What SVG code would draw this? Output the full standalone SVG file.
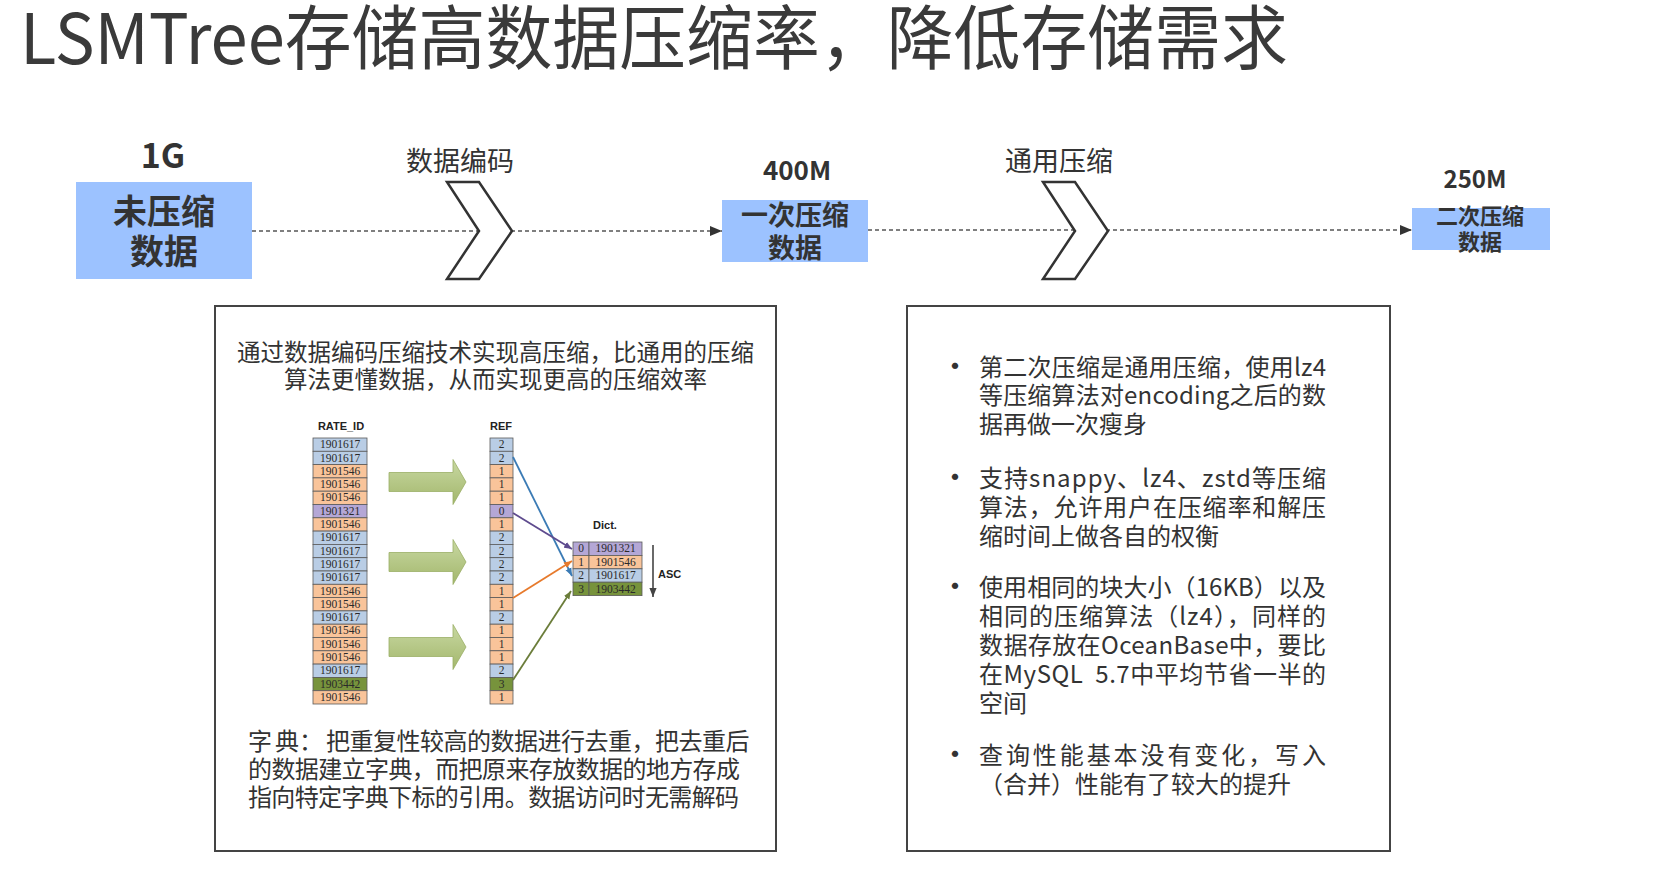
<svg xmlns="http://www.w3.org/2000/svg" width="1666" height="880" viewBox="0 0 1666 880">
  <style>
    text { font-family: 'Noto Sans CJK SC', 'Noto Sans', sans-serif; fill: #333; }
    .title { font-size: 70px; fill: #3a3a3a; }
    .size { font-weight: bold; text-anchor: middle; }
    .blk { font-weight: bold; text-anchor: middle; }
    .stage { font-size: 27px; text-anchor: middle; }
    .box { fill: #9cc2ff; }
    .chev { fill: #fff; stroke: #333; stroke-width: 2.5; stroke-linejoin: miter; }
    .flow { fill: none; stroke: #555; stroke-width: 1.3; stroke-dasharray: 4 3; }
    .panel { fill: #fff; stroke: #444; stroke-width: 2; }
    .body { font-size: 24px; }
    .lead { font-size: 23.5px; text-anchor: middle; }
    .dot { font-size: 30px; text-anchor: middle; }
    .cell { stroke: #5a5a5a; stroke-width: 0.8; }
    .b { fill: #b9cde5; }
    .o { fill: #f9c49a; }
    .p { fill: #b4a7d6; }
    .g { fill: #77933c; }
    .num { font-family: 'Liberation Serif', serif; font-size: 11.5px; fill: #2a2a2a; text-anchor: middle; }
    .hd { font-family: 'Liberation Sans', 'Noto Sans', sans-serif; font-size: 11px; font-weight: bold; fill: #222; }
    .link { fill: none; stroke-width: 1.8; }
  </style>
  <defs>
    <marker id="tri" viewBox="0 0 12 10" refX="12" refY="5" markerWidth="12" markerHeight="10" markerUnits="userSpaceOnUse" orient="auto">
      <path d="M0,0 L12,5 L0,10 Z" fill="#333"/>
    </marker>
    <marker id="mBlue" viewBox="0 0 10 8" refX="10" refY="4" markerWidth="8" markerHeight="7" markerUnits="userSpaceOnUse" orient="auto">
      <path d="M0,0 L10,4 L0,8 Z" fill="#3b7bb5"/>
    </marker>
    <marker id="mPurple" viewBox="0 0 10 8" refX="10" refY="4" markerWidth="8" markerHeight="7" markerUnits="userSpaceOnUse" orient="auto">
      <path d="M0,0 L10,4 L0,8 Z" fill="#5e4b8e"/>
    </marker>
    <marker id="mOrange" viewBox="0 0 10 8" refX="10" refY="4" markerWidth="8" markerHeight="7" markerUnits="userSpaceOnUse" orient="auto">
      <path d="M0,0 L10,4 L0,8 Z" fill="#e77a2c"/>
    </marker>
    <marker id="mOlive" viewBox="0 0 10 8" refX="10" refY="4" markerWidth="8" markerHeight="7" markerUnits="userSpaceOnUse" orient="auto">
      <path d="M0,0 L10,4 L0,8 Z" fill="#6b7d3a"/>
    </marker>
    <marker id="mAsc" viewBox="0 0 10 8" refX="10" refY="4" markerWidth="9" markerHeight="8" markerUnits="userSpaceOnUse" orient="auto">
      <path d="M0,0 L10,4 L0,8 Z" fill="#444"/>
    </marker>
    <linearGradient id="leaf" x1="0" y1="0" x2="0" y2="1">
      <stop offset="0" stop-color="#c8d8a2"/>
      <stop offset="1" stop-color="#a3b76c"/>
    </linearGradient>
    <path id="fat" d="M0,-9.5 L64,-9.5 L64,-22.5 L77,0 L64,22.5 L64,9.5 L0,9.5 Z" fill="url(#leaf)" stroke="#9aae66" stroke-width="0.8"/>
  </defs>

  <rect width="1666" height="880" fill="#fff"/>

  <text class="title" x="20" y="64" textLength="1268" lengthAdjust="spacingAndGlyphs">LSMTree存储高数据压缩率，降低存储需求</text>

  <!-- dashed flow between the data stages -->
  <g id="connectors">
    <line class="flow" x1="252" y1="231" x2="722" y2="231" marker-end="url(#tri)"/>
    <line class="flow" x1="868" y1="230" x2="1412" y2="230" marker-end="url(#tri)"/>
  </g>

  <g id="node-raw">
    <text class="size" x="163" y="168" font-size="34">1G</text>
    <rect class="box" x="76" y="182" width="176" height="97"/>
    <text class="blk" x="164" y="224" font-size="34">未压缩</text>
    <text class="blk" x="164" y="264" font-size="34">数据</text>
  </g>

  <g id="stage-encode">
    <text class="stage" x="460" y="171">数据编码</text>
    <polygon class="chev" points="447,182 479,182 512,231 479,279 447,279 479,231"/>
  </g>

  <g id="node-first">
    <text class="size" x="797" y="180" font-size="26">400M</text>
    <rect class="box" x="722" y="200" width="146" height="62"/>
    <text class="blk" x="795" y="225" font-size="27">一次压缩</text>
    <text class="blk" x="795" y="258" font-size="27">数据</text>
  </g>

  <g id="stage-general">
    <text class="stage" x="1059" y="171">通用压缩</text>
    <polygon class="chev" points="1043,182 1075,182 1108,231 1075,279 1043,279 1075,231"/>
  </g>

  <g id="node-second">
    <text class="size" x="1475" y="188" font-size="24">250M</text>
    <rect class="box" x="1412" y="208" width="138" height="42"/>
    <text class="blk" x="1480" y="224" font-size="22">二次压缩</text>
    <text class="blk" x="1480" y="250" font-size="22">数据</text>
  </g>

  <!-- dictionary encoding panel -->
  <g id="panel-encoding">
    <rect class="panel" x="215" y="306" width="561" height="545"/>
    <text class="lead" x="495.5" y="361">通过数据编码压缩技术实现高压缩，比通用的压缩</text>
    <text class="lead" x="495.5" y="388">算法更懂数据，从而实现更高的压缩效率</text>

    <g id="dict-figure">
      <text class="hd" x="341" y="430" text-anchor="middle">RATE_ID</text>
      <text class="hd" x="501" y="430" text-anchor="middle">REF</text>

      <g id="rate-column">
        <rect class="cell b" x="313" y="438.0" width="54" height="13.3"/><text class="num" x="340" y="448.2">1901617</text>
        <rect class="cell b" x="313" y="451.3" width="54" height="13.3"/><text class="num" x="340" y="461.5">1901617</text>
        <rect class="cell o" x="313" y="464.6" width="54" height="13.3"/><text class="num" x="340" y="474.8">1901546</text>
        <rect class="cell o" x="313" y="477.9" width="54" height="13.3"/><text class="num" x="340" y="488.1">1901546</text>
        <rect class="cell o" x="313" y="491.2" width="54" height="13.3"/><text class="num" x="340" y="501.4">1901546</text>
        <rect class="cell p" x="313" y="504.5" width="54" height="13.3"/><text class="num" x="340" y="514.7">1901321</text>
        <rect class="cell o" x="313" y="517.8" width="54" height="13.3"/><text class="num" x="340" y="528.0">1901546</text>
        <rect class="cell b" x="313" y="531.1" width="54" height="13.3"/><text class="num" x="340" y="541.3">1901617</text>
        <rect class="cell b" x="313" y="544.4" width="54" height="13.3"/><text class="num" x="340" y="554.6">1901617</text>
        <rect class="cell b" x="313" y="557.7" width="54" height="13.3"/><text class="num" x="340" y="567.9">1901617</text>
        <rect class="cell b" x="313" y="571.0" width="54" height="13.3"/><text class="num" x="340" y="581.2">1901617</text>
        <rect class="cell o" x="313" y="584.3" width="54" height="13.3"/><text class="num" x="340" y="594.5">1901546</text>
        <rect class="cell o" x="313" y="597.6" width="54" height="13.3"/><text class="num" x="340" y="607.8">1901546</text>
        <rect class="cell b" x="313" y="610.9" width="54" height="13.3"/><text class="num" x="340" y="621.1">1901617</text>
        <rect class="cell o" x="313" y="624.2" width="54" height="13.3"/><text class="num" x="340" y="634.4">1901546</text>
        <rect class="cell o" x="313" y="637.5" width="54" height="13.3"/><text class="num" x="340" y="647.7">1901546</text>
        <rect class="cell o" x="313" y="650.8" width="54" height="13.3"/><text class="num" x="340" y="661.0">1901546</text>
        <rect class="cell b" x="313" y="664.1" width="54" height="13.3"/><text class="num" x="340" y="674.3">1901617</text>
        <rect class="cell g" x="313" y="677.4" width="54" height="13.3"/><text class="num" x="340" y="687.6">1903442</text>
        <rect class="cell o" x="313" y="690.7" width="54" height="13.3"/><text class="num" x="340" y="700.9">1901546</text>
      </g>

      <use href="#fat" x="389" y="482"/>
      <use href="#fat" x="389" y="562"/>
      <use href="#fat" x="389" y="647"/>

      <g id="ref-column">
        <rect class="cell b" x="490" y="438.0" width="23" height="13.3"/><text class="num" x="501.5" y="448.2">2</text>
        <rect class="cell b" x="490" y="451.3" width="23" height="13.3"/><text class="num" x="501.5" y="461.5">2</text>
        <rect class="cell o" x="490" y="464.6" width="23" height="13.3"/><text class="num" x="501.5" y="474.8">1</text>
        <rect class="cell o" x="490" y="477.9" width="23" height="13.3"/><text class="num" x="501.5" y="488.1">1</text>
        <rect class="cell o" x="490" y="491.2" width="23" height="13.3"/><text class="num" x="501.5" y="501.4">1</text>
        <rect class="cell p" x="490" y="504.5" width="23" height="13.3"/><text class="num" x="501.5" y="514.7">0</text>
        <rect class="cell o" x="490" y="517.8" width="23" height="13.3"/><text class="num" x="501.5" y="528.0">1</text>
        <rect class="cell b" x="490" y="531.1" width="23" height="13.3"/><text class="num" x="501.5" y="541.3">2</text>
        <rect class="cell b" x="490" y="544.4" width="23" height="13.3"/><text class="num" x="501.5" y="554.6">2</text>
        <rect class="cell b" x="490" y="557.7" width="23" height="13.3"/><text class="num" x="501.5" y="567.9">2</text>
        <rect class="cell b" x="490" y="571.0" width="23" height="13.3"/><text class="num" x="501.5" y="581.2">2</text>
        <rect class="cell o" x="490" y="584.3" width="23" height="13.3"/><text class="num" x="501.5" y="594.5">1</text>
        <rect class="cell o" x="490" y="597.6" width="23" height="13.3"/><text class="num" x="501.5" y="607.8">1</text>
        <rect class="cell b" x="490" y="610.9" width="23" height="13.3"/><text class="num" x="501.5" y="621.1">2</text>
        <rect class="cell o" x="490" y="624.2" width="23" height="13.3"/><text class="num" x="501.5" y="634.4">1</text>
        <rect class="cell o" x="490" y="637.5" width="23" height="13.3"/><text class="num" x="501.5" y="647.7">1</text>
        <rect class="cell o" x="490" y="650.8" width="23" height="13.3"/><text class="num" x="501.5" y="661.0">1</text>
        <rect class="cell b" x="490" y="664.1" width="23" height="13.3"/><text class="num" x="501.5" y="674.3">2</text>
        <rect class="cell g" x="490" y="677.4" width="23" height="13.3"/><text class="num" x="501.5" y="687.6">3</text>
        <rect class="cell o" x="490" y="690.7" width="23" height="13.3"/><text class="num" x="501.5" y="700.9">1</text>
      </g>

      <text class="hd" x="605" y="529" text-anchor="middle">Dict.</text>
      <g id="dict-table">
        <rect class="cell p" x="573" y="542.0" width="16" height="13.4"/><rect class="cell p" x="589" y="542.0" width="53" height="13.4"/>
        <text class="num" x="581" y="552.3">0</text><text class="num" x="615.5" y="552.3">1901321</text>
        <rect class="cell o" x="573" y="555.4" width="16" height="13.4"/><rect class="cell o" x="589" y="555.4" width="53" height="13.4"/>
        <text class="num" x="581" y="565.7">1</text><text class="num" x="615.5" y="565.7">1901546</text>
        <rect class="cell b" x="573" y="568.8" width="16" height="13.4"/><rect class="cell b" x="589" y="568.8" width="53" height="13.4"/>
        <text class="num" x="581" y="579.1">2</text><text class="num" x="615.5" y="579.1">1901617</text>
        <rect class="cell g" x="573" y="582.2" width="16" height="13.4"/><rect class="cell g" x="589" y="582.2" width="53" height="13.4"/>
        <text class="num" x="581" y="592.5">3</text><text class="num" x="615.5" y="592.5">1903442</text>
      </g>

      <line class="link" x1="513" y1="457" x2="572" y2="576" stroke="#3b7bb5" marker-end="url(#mBlue)"/>
      <line class="link" x1="513" y1="513" x2="572" y2="549" stroke="#5e4b8e" marker-end="url(#mPurple)"/>
      <line class="link" x1="513" y1="598" x2="572" y2="561" stroke="#e77a2c" marker-end="url(#mOrange)"/>
      <line class="link" x1="513" y1="680" x2="571" y2="591" stroke="#6b7d3a" marker-end="url(#mOlive)"/>

      <line x1="653" y1="545" x2="653" y2="597" stroke="#444" stroke-width="1.6" marker-end="url(#mAsc)"/>
      <text class="hd" x="658" y="578">ASC</text>
    </g>

    <text class="body" y="750"><tspan x="248">字</tspan><tspan x="275">典：</tspan><tspan x="326" letter-spacing="-0.5">把重复性较高的数据进行去重，把去重后</tspan></text>
    <text class="body" x="248" y="778" textLength="492" lengthAdjust="spacing">的数据建立字典，而把原来存放数据的地方存成</text>
    <text class="body" x="248" y="806" textLength="491" lengthAdjust="spacing">指向特定字典下标的引用。数据访问时无需解码</text>
  </g>

  <!-- general-purpose compression panel -->
  <g id="panel-general">
    <rect class="panel" x="907" y="306" width="483" height="545"/>

    <text class="dot" x="955" y="377">•</text>
    <text class="body" x="979" y="376" textLength="347" lengthAdjust="spacing">第二次压缩是通用压缩，使用lz4</text>
    <text class="body" x="979" y="404" textLength="347" lengthAdjust="spacing">等压缩算法对encoding之后的数</text>
    <text class="body" x="979" y="433">据再做一次瘦身</text>

    <text class="dot" x="955" y="488">•</text>
    <text class="body" x="979" y="487" textLength="347" lengthAdjust="spacing">支持snappy、lz4、zstd等压缩</text>
    <text class="body" x="979" y="516" textLength="347" lengthAdjust="spacing">算法，允许用户在压缩率和解压</text>
    <text class="body" x="979" y="545">缩时间上做各自的权衡</text>

    <text class="dot" x="955" y="597">•</text>
    <text class="body" x="979" y="596" textLength="347" lengthAdjust="spacing">使用相同的块大小（16KB）以及</text>
    <text class="body" x="979" y="625" textLength="347" lengthAdjust="spacing">相同的压缩算法（lz4），同样的</text>
    <text class="body" x="979" y="654" textLength="347" lengthAdjust="spacing">数据存放在OceanBase中，要比</text>
    <text class="body" x="979" y="683" textLength="347" lengthAdjust="spacing">在MySQL&#160;&#160;5.7中平均节省一半的</text>
    <text class="body" x="979" y="712">空间</text>

    <text class="dot" x="955" y="765">•</text>
    <text class="body" x="979" y="764" textLength="347" lengthAdjust="spacing">查询性能基本没有变化，写入</text>
    <text class="body" x="979" y="793">（合并）性能有了较大的提升</text>
  </g>
</svg>
